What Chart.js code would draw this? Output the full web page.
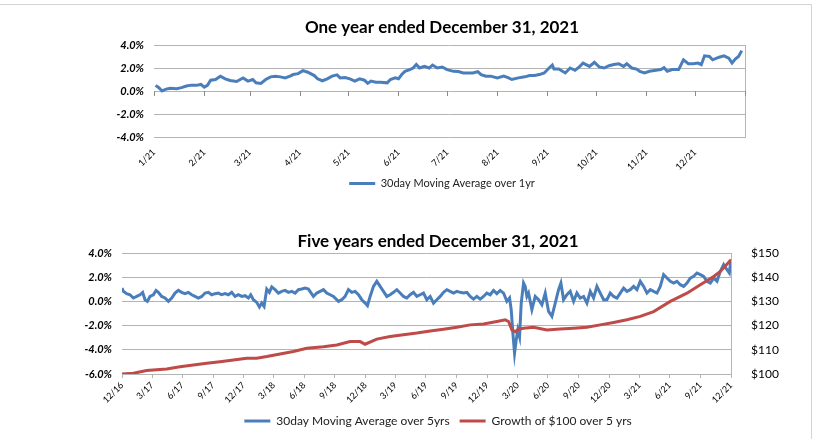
<!DOCTYPE html>
<html>
<head>
<meta charset="utf-8">
<script src="https://cdn.jsdelivr.net/npm/chart.js@4.4.0/dist/chart.umd.min.js"></script>
<style>
  html, body { margin: 0; padding: 0; background: #fff; }
  body { width: 817px; height: 439px; position: relative; overflow: hidden; }
  .frame { position: absolute; left: -2px; top: 4px; width: 813px; height: 460px;
           border-top: 1px solid #d4d4d4; border-right: 1px solid #d4d4d4; }
  canvas { position: absolute; left: 0; }
  #chart-1yr { top: 8px; }
  #chart-5yr { top: 225px; }
</style>
</head>
<body>
<div class="frame"></div>
<canvas id="chart-1yr" width="817" height="191"></canvas>
<canvas id="chart-5yr" width="817" height="212"></canvas>

<script>
// ---- data (days counted from start of period) ----

// one year: 30 day moving average (%)
var oneYrDays = [1, 3, 5, 7, 10, 14, 17, 20, 23, 26, 29, 31, 33, 35, 38, 41, 44, 47, 51, 55,
  58, 61, 63, 66, 69, 72, 75, 78, 81, 84, 86, 89, 92, 95, 99, 101, 104, 107, 110, 113,
  115, 118, 121, 124, 127, 130, 132, 134, 137, 140, 144, 146, 149, 151, 153, 155, 158, 160, 162, 164,
  167, 170, 172, 175, 178, 181, 185, 188, 191, 194, 197, 200, 202, 205, 208, 212, 216, 219, 221, 225,
  229, 232, 235, 238, 241, 244, 246, 247, 250, 254, 257, 260, 263, 265, 269, 272, 275, 278, 281, 284,
  287, 290, 292, 295, 298, 300, 303, 306, 310, 313, 315, 317, 320, 324, 327, 330, 333, 336, 338, 340,
  343, 345, 349, 352, 355, 357, 359, 361, 363];
var oneYrAvg = [0.49, 0.29, 0.0, 0.14, 0.23, 0.2, 0.29, 0.43, 0.51, 0.49, 0.57, 0.34, 0.49, 0.94, 1.0, 1.29, 1.06, 0.91, 0.83, 1.14,
  0.86, 1.0, 0.71, 0.66, 1.0, 1.23, 1.29, 1.23, 1.14, 1.29, 1.43, 1.51, 1.77, 1.63, 1.34, 1.06, 0.89, 1.06, 1.29, 1.4,
  1.14, 1.17, 1.06, 0.86, 1.06, 0.94, 0.66, 0.86, 0.77, 0.77, 0.71, 1.0, 1.14, 1.06, 1.43, 1.71, 1.86, 2.0, 2.31, 2.0,
  2.14, 2.0, 2.26, 2.0, 2.09, 1.86, 1.71, 1.69, 1.57, 1.57, 1.57, 1.69, 1.43, 1.29, 1.29, 1.14, 1.29, 1.14, 1.0, 1.14,
  1.23, 1.34, 1.34, 1.43, 1.57, 2.0, 2.26, 1.91, 1.91, 1.57, 2.0, 1.8, 2.14, 2.43, 2.14, 2.49, 2.09, 2.0, 2.2, 2.31,
  2.37, 2.14, 2.37, 2.0, 1.91, 1.71, 1.57, 1.71, 1.8, 1.86, 2.03, 1.71, 1.86, 1.86, 2.71, 2.37, 2.37, 2.43, 2.29, 3.06,
  3.0, 2.71, 2.94, 3.06, 2.86, 2.43, 2.77, 3.0, 3.51];

var monthDays = [0, 31, 59, 90, 120, 151, 181, 212, 243, 273, 304, 334];
var monthLabels = ["1/21", "2/21", "3/21", "4/21", "5/21", "6/21", "7/21", "8/21", "9/21", "10/21", "11/21", "12/21"];

// five years: 30 day moving average (%)
var fiveYrDays = [0, 4, 14, 24, 34, 44, 54, 62, 69, 76, 84, 94, 102, 109, 119, 129, 139, 149, 159, 169,
  179, 189, 199, 209, 219, 229, 239, 249, 259, 269, 279, 289, 299, 309, 319, 329, 339, 349, 359, 369,
  379, 386, 394, 404, 412, 419, 426, 434, 442, 449, 459, 469, 479, 489, 499, 509, 519, 529, 539, 549,
  559, 574, 584, 594, 604, 614, 624, 634, 649, 659, 669, 679, 689, 699, 709, 719, 729, 736, 744, 754,
  764, 774, 784, 794, 804, 814, 824, 834, 844, 854, 864, 874, 884, 894, 904, 914, 924, 934, 944, 954,
  964, 974, 984, 994, 1004, 1014, 1024, 1034, 1044, 1054, 1064, 1074, 1084, 1094, 1104, 1114, 1124, 1134, 1144, 1154,
  1162, 1167, 1172, 1177, 1182, 1187, 1192, 1197, 1204, 1209, 1214, 1219, 1229, 1239, 1249, 1259, 1269, 1279, 1289, 1299,
  1309, 1316, 1324, 1334, 1344, 1354, 1364, 1374, 1384, 1394, 1404, 1414, 1424, 1434, 1444, 1454, 1464, 1474, 1484, 1494,
  1504, 1514, 1524, 1534, 1544, 1554, 1564, 1574, 1584, 1594, 1604, 1614, 1624, 1634, 1644, 1654, 1664, 1674, 1684, 1694,
  1704, 1714, 1724, 1734, 1744, 1754, 1764, 1774, 1784, 1794, 1804, 1814, 1821, 1826];
var fiveYrAvg = [1.1, 0.83, 0.64, 0.55, 0.28, 0.41, 0.55, 0.75, 0.14, 0, 0.41, 0.55, 0.91, 0.75, 0.41, 0.28, 0, 0.28, 0.69, 0.91,
  0.75, 0.64, 0.75, 0.55, 0.41, 0.28, 0.41, 0.69, 0.75, 0.55, 0.64, 0.69, 0.55, 0.64, 0.55, 0.75, 0.41, 0.55, 0.41, 0.47,
  0.28, 0.55, 0.14, -0.08, -0.47, -0.14, -0.41, 1.02, 0.75, 1.19, 0.97, 0.69, 0.83, 0.91, 0.75, 0.83, 0.69, 0.97, 1.02, 1.1,
  1.02, 0.41, 0.69, 0.83, 0.97, 0.69, 0.55, 0.41, 0, 0.14, 0.41, 0.97, 0.75, 0.83, 0.55, 0.14, -0.14, -0.36, 0.41, 1.24,
  1.66, 1.24, 0.83, 0.41, 0.55, 0.75, 0.97, 0.69, 0.41, 0.28, 0.55, 0.75, 0.41, 0.55, 0.69, 0.14, 0.41, -0.14, 0.14, 0.41,
  0.75, 0.97, 0.83, 0.69, 0.83, 0.75, 0.69, 0.75, 0.41, 0.19, 0.41, 0.19, 0.41, 0.69, 0.55, 0.91, 0.64, 0.91, 0.69, 0,
  0.28, -0.69, -2.62, -4.28, -3.18, -2.35, -2.9, -0.14, 1.52, 1.24, 0.41, 0.69, -0.69, 0.41, 0.14, -0.28, 0.69, -0.83, -1.24, -0.14,
  0.97, 1.52, 0.14, 0.55, 0.83, 0, 0.69, 0.28, 0.41, -0.14, 0.83, 0.28, 1.24, 0.69, 0.14, 0.14, 0.69, 0.41, 0.28, 0.69,
  1.1, 0.83, 0.97, 1.24, 0.97, 1.66, 1.24, 0.69, 0.97, 0.83, 0.69, 1.24, 2.21, 1.93, 1.66, 1.52, 1.66, 1.38, 1.24, 1.52,
  1.93, 2.07, 2.35, 2.21, 2.07, 1.66, 1.52, 1.93, 1.66, 2.49, 3.04, 2.62, 2.35, 3.45];

// five years: growth of $100
var growthDays = [0, 34, 74, 134, 174, 214, 254, 294, 334, 374, 404, 434, 474, 514, 554, 604, 644, 684, 714, 729,
  764, 804, 844, 884, 924, 964, 1004, 1044, 1084, 1124, 1149, 1159, 1169, 1179, 1189, 1204, 1234, 1274, 1314, 1354,
  1394, 1434, 1474, 1514, 1554, 1594, 1644, 1694, 1734, 1774, 1794, 1826];
var growthValue = [100.0, 100.3, 101.4, 102.1, 103.0, 103.7, 104.4, 105.1, 105.8, 106.5, 106.5, 107.2, 108.3, 109.3, 110.6, 111.3, 112.0, 113.4, 113.4, 112.3,
  114.4, 115.5, 116.2, 116.9, 117.8, 118.5, 119.3, 120.3, 120.7, 121.7, 122.4, 121.7, 118.2, 117.5, 118.5, 118.9, 119.3, 118.2, 118.6, 118.9,
  119.3, 120.3, 121.3, 122.4, 123.8, 125.8, 130.0, 133.4, 136.9, 140.3, 142.4, 147.2];

var quarterDays = [0, 90, 181, 273, 365, 455, 546, 638, 730, 820, 911, 1003, 1095, 1186, 1277, 1369, 1461, 1551, 1642, 1734, 1826];
var quarterLabels = ["12/16", "3/17", "6/17", "9/17", "12/17", "3/18", "6/18", "9/18", "12/18", "3/19", "6/19",
  "9/19", "12/19", "3/20", "6/20", "9/20", "12/20", "3/21", "6/21", "9/21", "12/21"];

// ---- styles ----
var BLUE = "#4a7ebb";
var RED = "#be4b48";
var GRID = "#b4b4b4";
var FONT = "Lato, 'Open Sans', sans-serif";

Chart.defaults.font.family = FONT;
Chart.defaults.color = "#000";

function toPoints(xs, ys) {
  return xs.map(function (x, i) { return { x: x, y: ys[i] }; });
}

// legend marker: flat line instead of outlined box, kept in dataset order
function lineLegend(chart) {
  return Chart.defaults.plugins.legend.labels.generateLabels(chart).map(function (item) {
    item.lineWidth = 0;
    item.fillStyle = item.strokeStyle;
    return item;
  });
}
function byDataset(a, b) { return a.datasetIndex - b.datasetIndex; }

// small tick marks on the 0% line (one year chart)
var zeroTicks = {
  id: "zeroTicks",
  beforeDatasetsDraw: function (chart) {
    var xs = chart.scales.x, ys = chart.scales.y, ctx = chart.ctx;
    var y0 = ys.getPixelForValue(0);
    ctx.save();
    ctx.strokeStyle = "#8c8c8c";
    ctx.lineWidth = 1;
    ctx.beginPath();
    monthDays.concat([365]).forEach(function (d) {
      var x = Math.round(xs.getPixelForValue(d)) + 0.5;
      ctx.moveTo(x, y0);
      ctx.lineTo(x, y0 + 5);
    });
    ctx.stroke();
    ctx.restore();
  }
};

// 1년 차트
new Chart(document.getElementById("chart-1yr"), {
  type: "line",
  data: {
    datasets: [{
      label: "30day Moving Average over 1yr",
      data: toPoints(oneYrDays, oneYrAvg),
      borderColor: BLUE,
      backgroundColor: BLUE,
      borderWidth: 3,
      pointRadius: 0,
      tension: 0
    }]
  },
  options: {
    responsive: false,
    animation: false,
    layout: { padding: { left: 104, right: 37, top: 0, bottom: 0 } },
    plugins: {
      title: {
        display: true,
        text: "One year ended December 31, 2021",
        color: "#000",
        font: { size: 17, weight: "bold" },
        padding: { top: 9, bottom: 7.6 }
      },
      legend: {
        position: "bottom",
        labels: { boxWidth: 26, boxHeight: 3, padding: 8, color: "#222", font: { size: 11 }, generateLabels: lineLegend }
      },
      tooltip: { enabled: false }
    },
    scales: {
      x: {
        type: "linear",
        min: 0,
        max: 365,
        grid: { display: false },
        border: { display: false },
        afterBuildTicks: function (scale) {
          scale.ticks = monthDays.map(function (d) { return { value: d }; });
        },
        afterFit: function (scale) { scale.height = 33; },
        ticks: {
          autoSkip: false,
          maxRotation: 45,
          minRotation: 45,
          padding: 2,
          font: { size: 9 },
          callback: function (v, i) { return monthLabels[i]; }
        }
      },
      y: {
        min: -4,
        max: 4,
        grid: { color: GRID, drawTicks: false },
        border: { display: false },
        afterFit: function (scale) { scale.width = 50; },
        ticks: {
          stepSize: 2,
          padding: 10,
          font: { size: 11, weight: "bold", style: "italic" },
          callback: function (v) { return v.toFixed(1) + "%"; }
        }
      },
      yEdge: {
        position: "right",
        min: -4,
        max: 4,
        grid: { display: false },
        border: { display: true, color: GRID },
        ticks: { display: false },
        afterFit: function (scale) { scale.width = 35; }
      }
    }
  },
  plugins: [zeroTicks]
});

// 5년 차트
new Chart(document.getElementById("chart-5yr"), {
  type: "line",
  data: {
    datasets: [
      {
        label: "30day Moving Average over 5yrs",
        data: toPoints(fiveYrDays, fiveYrAvg),
        borderColor: BLUE,
        backgroundColor: BLUE,
        borderWidth: 3,
        pointRadius: 0,
        tension: 0,
        yAxisID: "y",
        order: 2
      },
      {
        label: "Growth of $100 over 5 yrs",
        data: toPoints(growthDays, growthValue),
        borderColor: RED,
        backgroundColor: RED,
        borderWidth: 3,
        pointRadius: 0,
        tension: 0,
        yAxisID: "y1",
        order: 1
      }
    ]
  },
  options: {
    responsive: false,
    animation: false,
    layout: { padding: { left: 85, right: 26, top: 0, bottom: 0 } },
    plugins: {
      title: {
        display: true,
        text: "Five years ended December 31, 2021",
        color: "#000",
        font: { size: 17, weight: "bold" },
        padding: { top: 6.8, bottom: 0.8 }
      },
      legend: {
        position: "bottom",
        labels: { boxWidth: 26, boxHeight: 3, color: "#222", font: { size: 12 }, padding: 10,
                  generateLabels: lineLegend, sort: byDataset }
      },
      tooltip: { enabled: false }
    },
    scales: {
      x: {
        type: "linear",
        min: 0,
        max: 1826,
        grid: { color: GRID, drawOnChartArea: false, tickLength: 4 },
        border: { color: GRID },
        afterBuildTicks: function (scale) {
          scale.ticks = quarterDays.map(function (d) { return { value: d }; });
        },
        afterFit: function (scale) { scale.height = 31; },
        ticks: {
          autoSkip: false,
          maxRotation: 45,
          minRotation: 45,
          padding: 2,
          font: { size: 9 },
          callback: function (v, i) { return quarterLabels[i]; }
        }
      },
      y: {
        position: "left",
        min: -6,
        max: 4,
        grid: { color: GRID, drawTicks: false },
        border: { display: false },
        afterFit: function (scale) { scale.width = 37; },
        ticks: {
          stepSize: 2,
          padding: 10,
          font: { size: 11, weight: "bold", style: "italic" },
          callback: function (v) { return v.toFixed(1) + "%"; }
        }
      },
      y1: {
        position: "right",
        min: 100,
        max: 150,
        grid: { display: false },
        border: { display: true, color: GRID },
        afterFit: function (scale) { scale.width = 60; },
        ticks: {
          stepSize: 10,
          padding: 12,
          font: { size: 12 },
          callback: function (v) { return "$" + v; }
        }
      }
    }
  }
});
</script>
</body>
</html>
